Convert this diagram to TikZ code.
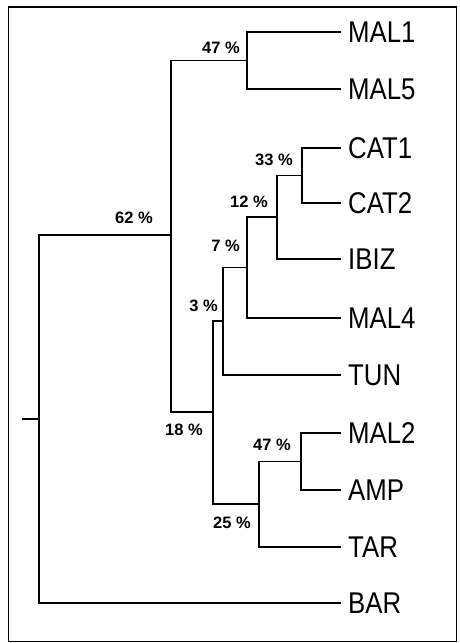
\documentclass[tikz,border=0pt]{standalone}
\usepackage{fontspec}
\newfontfamily\leaffont[FakeStretch=0.86]{Liberation Sans}
\newfontfamily\pctfont{Liberation Sans}
\begin{document}
\begin{tikzpicture}[x=1pt,y=-1pt,
  branch/.style={line width=1.2pt, line cap=rect},
  frame/.style={line width=1.6pt},
  leaf/.style={anchor=west, inner xsep=8pt, inner ysep=0pt, font=\leaffont\fontsize{30}{30}\selectfont},
  pct/.style={anchor=base east, inner sep=0pt, font=\pctfont\bfseries\fontsize{16.5}{16.5}\selectfont}]
\useasboundingbox (0,0) rectangle (459,643);
\draw[frame] (8.5,7) rectangle (456.5,641.5);
% leaves
\node[leaf] (mal1) at (340,32) {MAL1};
\node[leaf] (mal5) at (340,89) {MAL5};
\node[leaf] (cat1) at (340,148) {CAT1};
\node[leaf] (cat2) at (340,203) {CAT2};
\node[leaf] (ibiz) at (340,259) {IBIZ};
\node[leaf] (mal4) at (340,318) {MAL4};
\node[leaf] (tun)  at (340,375) {TUN};
\node[leaf] (mal2) at (340,433) {MAL2};
\node[leaf] (amp)  at (340,490) {AMP};
\node[leaf] (tar)  at (340,547) {TAR};
\node[leaf] (bar)  at (340,603) {BAR};
% internal nodes
\coordinate (stub) at (23,419);
\coordinate (r)   at (39,419);
\coordinate (n62) at (171,235);
\coordinate (n47a) at (247,60.5);
\coordinate (n18) at (213,412);
\coordinate (n3)  at (223,321);
\coordinate (n7)  at (247,267.5);
\coordinate (n12) at (277,217);
\coordinate (n33) at (302,175.5);
\coordinate (n25) at (259,504);
\coordinate (n47b) at (301,461.5);
% branches
\draw[branch] (stub) -- (r);
\draw[branch] (r) |- (n62);
\draw[branch] (r) |- (bar.west);
\draw[branch] (n62) |- (n47a);
\draw[branch] (n62) |- (n18);
\draw[branch] (n47a) |- (mal1.west);
\draw[branch] (n47a) |- (mal5.west);
\draw[branch] (n18) |- (n3);
\draw[branch] (n18) |- (n25);
\draw[branch] (n3) |- (n7);
\draw[branch] (n3) |- (tun.west);
\draw[branch] (n7) |- (n12);
\draw[branch] (n7) |- (mal4.west);
\draw[branch] (n12) |- (n33);
\draw[branch] (n12) |- (ibiz.west);
\draw[branch] (n33) |- (cat1.west);
\draw[branch] (n33) |- (cat2.west);
\draw[branch] (n25) |- (n47b);
\draw[branch] (n25) |- (tar.west);
\draw[branch] (n47b) |- (mal2.west);
\draw[branch] (n47b) |- (amp.west);
% support labels
\node[pct] (l47a) at (240,53) {47 \%};
\node[pct] (l62) at (153,223) {62 \%};
\node[pct] (l33) at (293,165) {33 \%};
\node[pct] (l12) at (268,207) {12 \%};
\node[pct] (l7) at (240,251) {7 \%};
\node[pct] (l3) at (218,311) {3 \%};
\node[pct] (l18) at (203,435) {18 \%};
\node[pct] (l47b) at (291,450) {47 \%};
\node[pct] (l25) at (251,528) {25 \%};
\end{tikzpicture}
\end{document}
